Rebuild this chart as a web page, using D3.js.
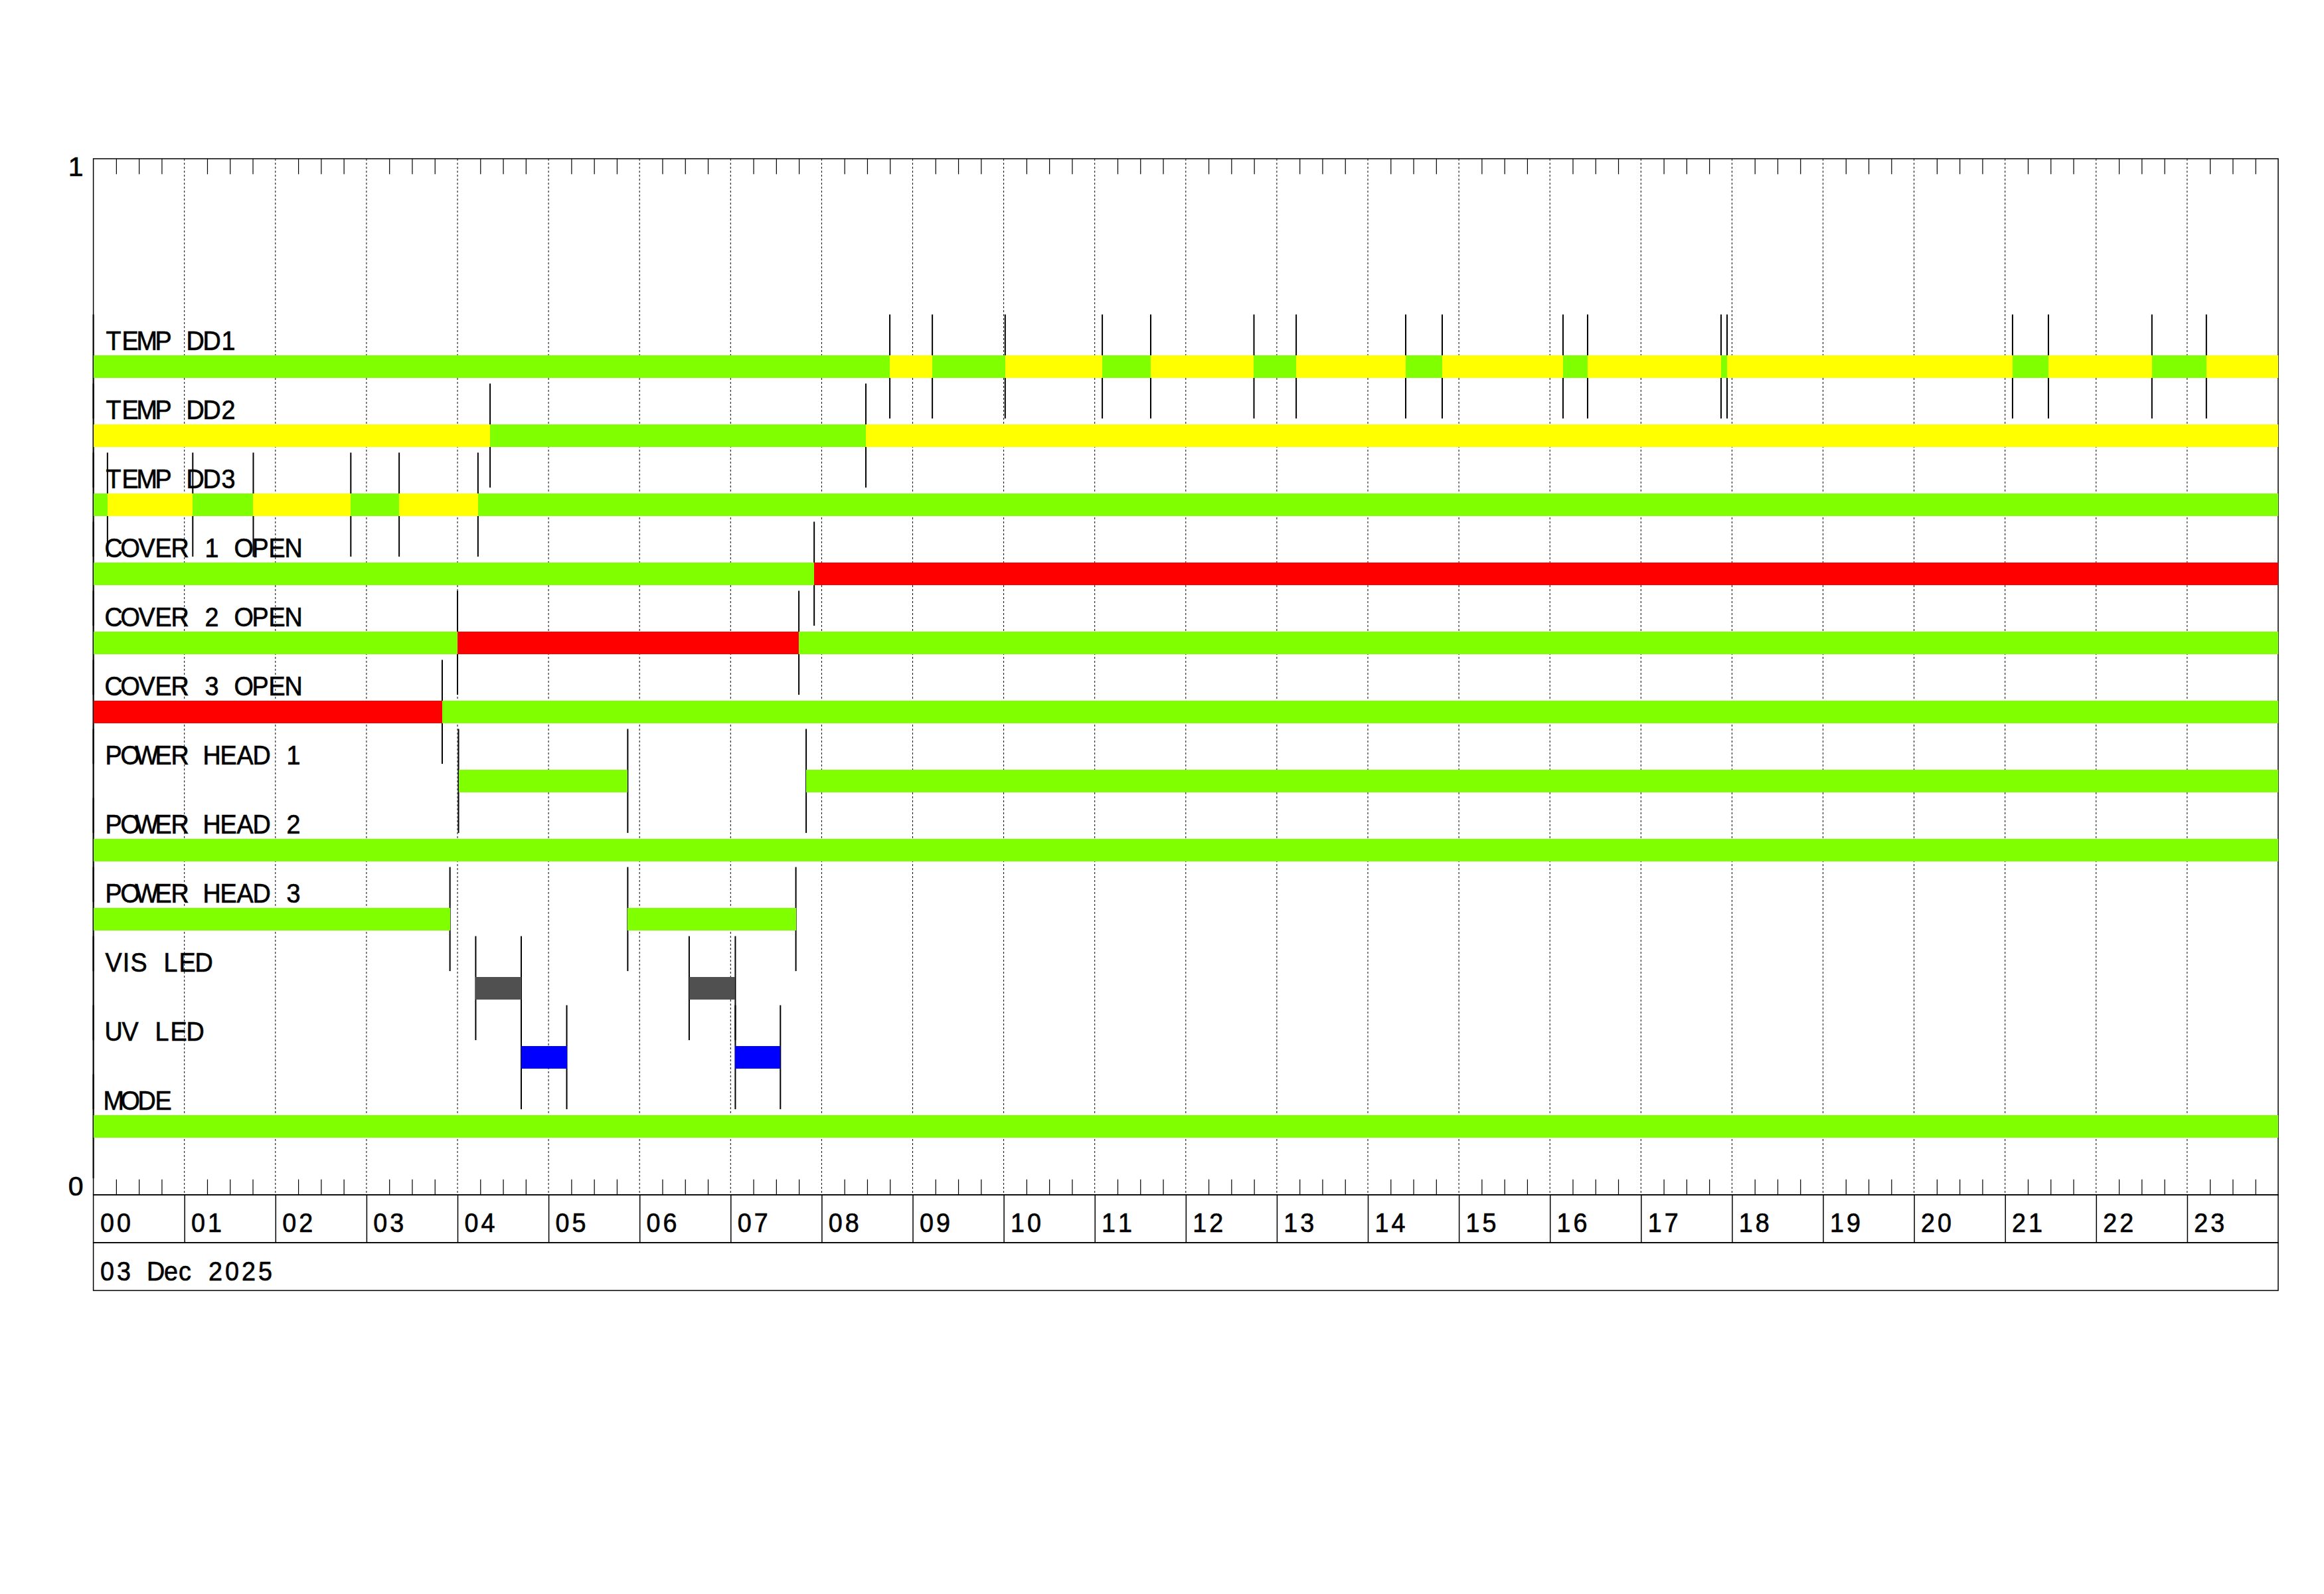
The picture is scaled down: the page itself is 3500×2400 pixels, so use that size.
<!DOCTYPE html>
<html>
<head>
<meta charset="utf-8">
<script src="https://cdn.jsdelivr.net/npm/d3@7"></script>
<style>
  html, body { margin: 0; padding: 0; background: #ffffff; }
  text { white-space: pre; }
</style>
</head>
<body>
<svg id="chart" width="3500" height="2400"></svg>
<script>
// ---------------- DATA ----------------
const rowLabels = ["TEMP DD1", "TEMP DD2", "TEMP DD3", "COVER 1 OPEN", "COVER 2 OPEN", "COVER 3 OPEN",
                   "POWER HEAD 1", "POWER HEAD 2", "POWER HEAD 3", "VIS LED", "UV LED", "MODE"];
const hourLabels = ["00","01","02","03","04","05","06","07","08","09","10","11",
                    "12","13","14","15","16","17","18","19","20","21","22","23"];
const dateLabel = "03 Dec 2025";
const yAxisLabels = ["0", "1"];

// segment start times (hours of day) and state of each segment ("" = no bar)
const dd1Starts = [0, 8.749, 9.216, 10.016, 11.083, 11.615, 12.749, 13.213, 14.416, 14.817,
                   16.144, 16.414, 17.880, 17.946, 21.082, 21.476, 22.613, 23.211];
const dd1States = ["ok","warn","ok","warn","ok","warn","ok","warn","ok","warn",
                   "ok","warn","ok","warn","ok","warn","ok","warn"];
const dd2Starts = [0, 4.358, 8.486];
const dd2States = ["warn", "ok", "warn"];
const dd3Starts = [0, 0.155, 1.092, 1.757, 2.828, 3.359, 4.225];
const dd3States = ["ok","warn","ok","warn","ok","warn","ok"];
const cover1Starts = [0, 7.918];
const cover1States = ["ok", "alarm"];
const cover2Starts = [0, 4.000, 7.750];
const cover2States = ["ok", "alarm", "ok"];
const cover3Starts = [0, 3.832];
const cover3States = ["alarm", "ok"];
const head1Starts = [0, 4.011, 5.870, 7.830];
const head1States = ["", "ok", "", "ok"];
const head2Starts = [0];
const head2States = ["ok"];
const head3Starts = [0, 3.917, 5.870, 7.717];
const head3States = ["ok", "", "ok", ""];
const visStarts = [0, 4.200, 4.700, 6.545, 7.052];
const visStates = ["", "vis", "", "vis", ""];
const uvStarts = [0, 4.700, 5.200, 7.052, 7.547];
const uvStates = ["", "uv", "", "uv", ""];
const modeStarts = [0];
const modeStates = ["ok"];

const stateKeys = ["ok", "warn", "alarm", "vis", "uv"];
const stateColors = ["#7fff00", "#ffff00", "#ff0000", "#505050", "#0000ff"];

const rowStarts = [dd1Starts, dd2Starts, dd3Starts, cover1Starts, cover2Starts, cover3Starts,
                   head1Starts, head2Starts, head3Starts, visStarts, uvStarts, modeStarts];
const rowStates = [dd1States, dd2States, dd3States, cover1States, cover2States, cover3States,
                   head1States, head2States, head3States, visStates, uvStates, modeStates];

// ---------------- LAYOUT ----------------
const plotLeft = 140.6, plotRight = 3431, plotTop = 239, plotBottom = 1799;
const hourBandH = 72, dateBandH = 72;
const barH = 33.7, markerHalf = 78.3;
const FONT = "'Liberation Sans', Arial, sans-serif";
const FONT_SIZE = 41, SX = 0.92, TEXT_STROKE = 0.7;

const svg = d3.select("#chart");
svg.append("rect").attr("width", 3500).attr("height", 2400).attr("fill", "#fff");

const x = d3.scaleLinear().domain([0, 24]).range([plotLeft, plotRight]);
const yVal = d3.scaleLinear().domain([0, 1]).range([plotBottom, plotTop]);
const yRow = d3.scalePoint().domain(rowLabels).range([551.8, 1695.8]);
const color = d3.scaleOrdinal().domain(stateKeys).range(stateColors);

function advanceOf(ch) {
  if (ch === " ") return 23;
  if (ch === "I") return 13;
  if (/[a-z]/.test(ch)) return 21;
  return 25;
}
function styleText(t) {
  return t.attr("font-family", FONT).attr("font-size", FONT_SIZE)
    .attr("fill", "#000").attr("stroke", "#000").attr("stroke-width", TEXT_STROKE);
}
function cellText(parent, str, xStart, yBase) {
  const chars = Array.from(str);
  let acc = xStart;
  const centers = [];
  chars.forEach(ch => { const a = advanceOf(ch); centers.push(acc + a / 2); acc += a; });
  return styleText(parent.append("text")
    .attr("transform", `translate(0,${yBase}) scale(${SX},1)`)
    .attr("x", centers.map(c => (c / SX).toFixed(2)).join(" "))
    .attr("y", 0)
    .attr("text-anchor", "middle"))
    .text(str);
}

// hour grid lines (dotted)
svg.append("g").selectAll("line")
  .data(d3.range(1, 24))
  .join("line")
  .attr("x1", d => x(d)).attr("x2", d => x(d))
  .attr("y1", yVal(1)).attr("y2", yVal(0))
  .attr("stroke", "#000").attr("stroke-width", 1)
  .attr("stroke-dasharray", "3,3");

// minor ticks (15 minutes) on top and bottom
const minorTicks = d3.range(0, 96).filter(i => i % 4 !== 0).map(i => i / 4);
svg.append("g").attr("transform", `translate(0,${yVal(1)})`)
  .call(d3.axisBottom(x).tickValues(minorTicks).tickSize(23.3).tickFormat(""))
  .call(g => g.select(".domain").remove())
  .call(g => g.selectAll("line").attr("stroke-width", 1.2));
svg.append("g").attr("transform", `translate(0,${yVal(0)})`)
  .call(d3.axisTop(x).tickValues(minorTicks).tickSize(23.3).tickFormat(""))
  .call(g => g.select(".domain").remove())
  .call(g => g.selectAll("line").attr("stroke-width", 1.2));

// plot frame + bands
svg.append("rect").attr("x", x(0)).attr("y", yVal(1))
  .attr("width", x(24) - x(0)).attr("height", yVal(0) - yVal(1))
  .attr("fill", "none").attr("stroke", "#000").attr("stroke-width", 1.5);
svg.append("rect").attr("x", x(0)).attr("y", yVal(0))
  .attr("width", x(24) - x(0)).attr("height", hourBandH)
  .attr("fill", "none").attr("stroke", "#000").attr("stroke-width", 1.5);
svg.append("rect").attr("x", x(0)).attr("y", yVal(0) + hourBandH)
  .attr("width", x(24) - x(0)).attr("height", dateBandH)
  .attr("fill", "none").attr("stroke", "#000").attr("stroke-width", 1.5);

// hour separators in band
svg.append("g").attr("transform", `translate(0,${yVal(0)})`)
  .call(d3.axisBottom(x).tickValues(d3.range(1, 24)).tickSize(hourBandH).tickFormat(""))
  .call(g => g.select(".domain").remove())
  .call(g => g.selectAll("line").attr("stroke-width", 1.5));

// segments
const rows = rowLabels.map((label, r) => ({
  label,
  segs: rowStarts[r].map((t0, i) => ({
    t0, t1: i + 1 < rowStarts[r].length ? rowStarts[r][i + 1] : 24, state: rowStates[r][i]
  }))
}));

// transition markers (drawn under bars)
const gMarks = svg.append("g");
rows.forEach(row => {
  const cy = yRow(row.label);
  gMarks.selectAll(null).data(row.segs).join("line")
    .attr("x1", d => x(d.t0)).attr("x2", d => x(d.t0))
    .attr("y1", cy - markerHalf).attr("y2", cy + markerHalf)
    .attr("stroke", "#000").attr("stroke-width", 2);
});

// bars
const gBars = svg.append("g").attr("shape-rendering", "crispEdges");
rows.forEach(row => {
  const cy = yRow(row.label);
  gBars.selectAll(null).data(row.segs.filter(d => d.state)).join("rect")
    .attr("x", d => x(d.t0)).attr("width", d => x(d.t1) - x(d.t0))
    .attr("y", cy - barH / 2).attr("height", barH)
    .attr("fill", d => color(d.state));
});

// row labels
const gLab = svg.append("g");
rowLabels.forEach(label => cellText(gLab, label, x(0) + 18, yRow(label) - 25.1));

// y axis labels
styleText(svg.append("text").attr("x", x(0) - 15).attr("y", yVal(1) + 26)
  .attr("text-anchor", "end")).text(yAxisLabels[1]);
styleText(svg.append("text").attr("x", x(0) - 15).attr("y", yVal(0) + 1)
  .attr("text-anchor", "end")).text(yAxisLabels[0]);

// hour labels and date
const gHours = svg.append("g");
hourLabels.forEach((h, i) => cellText(gHours, h, x(i) + 8.4, yVal(0) + 56));
cellText(svg, dateLabel, x(0) + 8.4, yVal(0) + hourBandH + 57);
</script>
</body>
</html>
